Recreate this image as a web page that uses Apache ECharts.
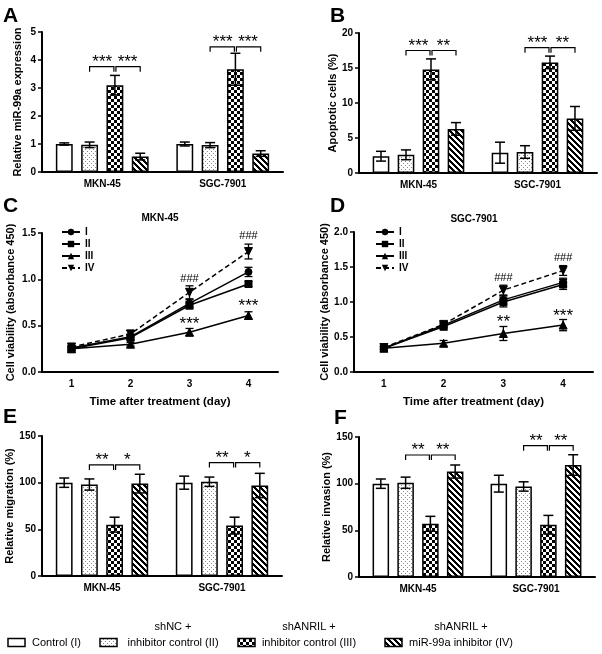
<!DOCTYPE html>
<html><head><meta charset="utf-8">
<script src="https://cdn.jsdelivr.net/npm/echarts@6/dist/echarts.min.js"></script>
<style>html,body{margin:0;padding:0;background:#fff}#c{width:602px;height:654px}</style>
</head><body><div id="c"></div>
<script>
// ---------------- data ----------------
const groups = ['MKN-45', 'SGC-7901'];
const conditionNames = ['Control (I)', 'shNC + inhibitor control (II)', 'shANRIL + inhibitor control (III)', 'shANRIL + miR-99a inhibitor (IV)'];
const lineNames = ['I', 'II', 'III', 'IV'];
const days = ['1', '2', '3', '4'];

// Panel A: relative miR-99a expression; rows = conditions I..IV, cols = groups
const aMean = [[1.00, 1.00], [0.97, 0.96], [3.10, 3.67], [0.55, 0.66]];
const aErr  = [[0.04, 0.07], [0.10, 0.09], [0.35, 0.57], [0.12, 0.10]];
const aSigLevel = [3.76, 4.47];
const aSigText = [['***', '***'], ['***', '***']];

// Panel B: apoptotic cells (%)
const bMean = [[2.4, 2.9], [2.6, 3.0], [14.8, 15.8], [6.3, 7.8]];
const bErr  = [[0.7, 1.5], [0.7, 0.9], [1.5, 0.9], [0.9, 1.7]];
const bSigLevel = [17.5, 17.9];
const bSigText = [['***', '**'], ['***', '**']];

// Panel C: MKN-45 cell viability; rows = I..IV, cols = days
const cMean = [[0.26, 0.38, 0.74, 1.08], [0.25, 0.37, 0.72, 0.95], [0.25, 0.30, 0.43, 0.61], [0.27, 0.41, 0.86, 1.30]];
const cErr  = [[0.02, 0.03, 0.04, 0.05], [0.02, 0.03, 0.04, 0.03], [0.02, 0.02, 0.04, 0.04], [0.02, 0.04, 0.07, 0.08]];
const cNotes = [[2, 1.00, '###'], [3, 1.47, '###'], [2, 0.56, '***'], [3, 0.755, '***']];

// Panel D: SGC-7901 cell viability
const dMean = [[0.34, 0.67, 1.03, 1.28], [0.34, 0.65, 1.00, 1.25], [0.34, 0.41, 0.55, 0.67], [0.35, 0.68, 1.17, 1.45]];
const dErr  = [[0.02, 0.04, 0.06, 0.06], [0.02, 0.05, 0.07, 0.07], [0.02, 0.04, 0.10, 0.08], [0.02, 0.04, 0.07, 0.07]];
const dNotes = [[2, 1.34, '###'], [3, 1.63, '###'], [2, 0.77, '**'], [3, 0.85, '***']];

// Panel E: relative migration (%)
const eMean = [[100, 100], [98, 101], [55, 54], [99, 97]];
const eErr  = [[5, 7], [6, 5], [8, 9], [10, 13]];
const eSigLevel = [119, 121.5];
const eSigText = [['**', '*'], ['**', '*']];

// Panel F: relative invasion (%)
const fMean = [[100, 100], [101, 97], [57, 56], [113, 120]];
const fErr  = [[5, 9], [6, 5], [8, 10], [7, 11]];
const fSigLevel = [130.7, 140.7];
const fSigText = [['**', '**'], ['**', '**']];

// ---------------- style helpers ----------------
const FONT = "'Liberation Sans', Arial, sans-serif";
const BARW = 0.14;

function makePattern(kind) {
  if (kind === 'plain') return '#ffffff';
  const c = document.createElement('canvas');
  const ctx = c.getContext('2d');
  if (kind === 'dots') {
    c.width = 4; c.height = 4;
    ctx.fillStyle = '#fff'; ctx.fillRect(0, 0, 4, 4);
    ctx.fillStyle = '#8a8a8a'; ctx.fillRect(1, 1, 1, 1); ctx.fillRect(3, 3, 1, 1);
  } else if (kind === 'checker') {
    c.width = 6; c.height = 6;
    ctx.fillStyle = '#fff'; ctx.fillRect(0, 0, 6, 6);
    ctx.fillStyle = '#000'; ctx.fillRect(0, 0, 3, 3); ctx.fillRect(3, 3, 3, 3);
  } else {
    c.width = 6; c.height = 6;
    ctx.fillStyle = '#fff'; ctx.fillRect(0, 0, 6, 6);
    ctx.fillStyle = '#000';
    for (let y = 0; y < 6; y++) for (let x = 0; x < 6; x++) if (((x - y) % 6 + 6) % 6 < 3) ctx.fillRect(x, y, 1, 1);
  }
  return { image: c, repeat: 'repeat' };
}
const patternKinds = ['plain', 'dots', 'checker', 'stripes'];
const fills = patternKinds.map(makePattern);

const grids = [
  { left: 42, top: 32, width: 241, height: 140 },   // A
  { left: 359, top: 33, width: 238, height: 140 },  // B
  { left: 42, top: 233, width: 236, height: 139 },  // C
  { left: 354, top: 232, width: 239, height: 140 }, // D
  { left: 42, top: 436, width: 240, height: 140 },  // E
  { left: 359, top: 437, width: 236, height: 140 }  // F
];
const yCfg = [
  { max: 5, interval: 1, name: 'Relative miR-99a expression', gap: 19, fmt: v => v },
  { max: 20, interval: 5, name: 'Apoptotic cells (%)', gap: 19, fmt: v => v },
  { max: 1.5, interval: 0.5, name: 'Cell viability (absorbance 450)', gap: 26, fmt: v => v.toFixed(1) },
  { max: 2.0, interval: 0.5, name: 'Cell viability (absorbance 450)', gap: 18, fmt: v => v.toFixed(1) },
  { max: 150, interval: 50, name: 'Relative migration (%)', gap: 19, fmt: v => v },
  { max: 150, interval: 50, name: 'Relative invasion (%)', gap: 24, fmt: v => v }
];

const axisLine = { lineStyle: { color: '#000', width: 2 } };
const axisTick = { lineStyle: { color: '#000', width: 1.5 }, length: 4 };
const labelStyle = { color: '#000', fontFamily: FONT, fontWeight: 'bold', fontSize: 10 };

const xAxes = [], yAxes = [], series = [];
grids.forEach((g, p) => {
  const isLine = (p === 2 || p === 3);
  xAxes.push({
    gridIndex: p, type: 'category', data: isLine ? days : groups, boundaryGap: true,
    axisLine, axisTick: Object.assign({ alignWithLabel: true }, axisTick),
    axisLabel: Object.assign({ margin: 7 }, labelStyle),
    splitLine: { show: false },
    name: isLine ? 'Time after treatment (day)' : '', nameLocation: 'middle', nameGap: 24,
    nameTextStyle: { color: '#000', fontFamily: FONT, fontWeight: 'bold', fontSize: 11.5 }
  });
  const yc = yCfg[p];
  yAxes.push({
    gridIndex: p, type: 'value', min: 0, max: yc.max, interval: yc.interval,
    axisLine: Object.assign({ show: true }, axisLine), axisTick: Object.assign({ show: true }, axisTick),
    axisLabel: Object.assign({ margin: 6, formatter: yc.fmt }, labelStyle),
    splitLine: { show: false },
    name: yc.name, nameLocation: 'middle', nameRotate: 90, nameGap: yc.gap,
    nameTextStyle: { color: '#000', fontFamily: FONT, fontWeight: 'bold', fontSize: 11 }
  });
});

// ---- bar panels ----
function errRender(params, api) {
  const g = api.value(0), c = api.value(1), m = api.value(2), e = api.value(3);
  const band = api.size([1, 0])[0];
  const w = band * BARW;
  const x = api.coord([g, m])[0] + (c - 1.5) * 1.5 * w;
  const yT = api.coord([g, m + e])[1], yB = api.coord([g, m - e])[1];
  const cap = 5, st = { stroke: '#000', lineWidth: 1.5 };
  return { type: 'group', children: [
    { type: 'line', shape: { x1: x, y1: yT, x2: x, y2: yB }, style: st },
    { type: 'line', shape: { x1: x - cap, y1: yT, x2: x + cap, y2: yT }, style: st },
    { type: 'line', shape: { x1: x - cap, y1: yB, x2: x + cap, y2: yB }, style: st }
  ] };
}
function makeSigRender(texts) {
  return function (params, api) {
    const g = api.value(0), lv = api.value(1);
    const band = api.size([1, 0])[0];
    const w = band * BARW;
    const cx = api.coord([g, lv])[0], y = api.coord([g, lv])[1];
    const x1 = cx - 0.75 * w, x2 = cx + 0.75 * w, x3 = cx + 2.25 * w;
    const st = { stroke: '#000', lineWidth: 1.2, fill: null };
    const drop = 5;
    const t = texts[params.dataIndex];
    const ts = { fill: '#000', fontFamily: FONT, fontSize: 17, align: 'center', verticalAlign: 'bottom' };
    return { type: 'group', children: [
      { type: 'polyline', shape: { points: [[x1, y + drop], [x1, y], [x2 - 1, y], [x2 - 1, y + drop]] }, style: st },
      { type: 'polyline', shape: { points: [[x2 + 1, y + drop], [x2 + 1, y], [x3, y], [x3, y + drop]] }, style: st },
      { type: 'text', style: Object.assign({ x: (x1 + x2) / 2, y: y + 4, text: t[0] }, ts) },
      { type: 'text', style: Object.assign({ x: (x2 + x3) / 2, y: y + 4, text: t[1] }, ts) }
    ] };
  };
}
const barPanels = [
  [0, aMean, aErr, aSigLevel, aSigText],
  [1, bMean, bErr, bSigLevel, bSigText],
  [4, eMean, eErr, eSigLevel, eSigText],
  [5, fMean, fErr, fSigLevel, fSigText]
];
barPanels.forEach(([p, mean, err, sigLv, sigTx]) => {
  mean.forEach((vals, i) => {
    series.push({
      type: 'bar', name: conditionNames[i], xAxisIndex: p, yAxisIndex: p, data: vals,
      barWidth: (BARW * 100) + '%', barGap: '50%', silent: true,
      itemStyle: { color: fills[i], borderColor: '#000', borderWidth: 1.5 }
    });
  });
  const errData = [];
  mean.forEach((vals, i) => vals.forEach((v, g) => errData.push([g, i, v, err[i][g]])));
  series.push({ type: 'custom', xAxisIndex: p, yAxisIndex: p, data: errData, renderItem: errRender, z: 5, silent: true });
  series.push({ type: 'custom', xAxisIndex: p, yAxisIndex: p, data: sigLv.map((l, g) => [g, l]), renderItem: makeSigRender(sigTx), z: 5, silent: true, clip: false });
});

// ---- line panels ----
const symbols = ['circle', 'rect', 'triangle', 'triangle'];
const symbolRot = [0, 0, 0, 180];
const symbolSizes = [7, 7, 8, 8];
function lineErrRender(params, api) {
  const d = api.value(0), m = api.value(1), e = api.value(2);
  const x = api.coord([d, m])[0];
  const yT = api.coord([d, m + e])[1], yB = api.coord([d, m - e])[1];
  const cap = 4, st = { stroke: '#000', lineWidth: 1.3 };
  return { type: 'group', children: [
    { type: 'line', shape: { x1: x, y1: yT, x2: x, y2: yB }, style: st },
    { type: 'line', shape: { x1: x - cap, y1: yT, x2: x + cap, y2: yT }, style: st },
    { type: 'line', shape: { x1: x - cap, y1: yB, x2: x + cap, y2: yB }, style: st }
  ] };
}
function makeNoteRender(notes) {
  return function (params, api) {
    const n = notes[params.dataIndex];
    const pt = api.coord([n[0], n[1]]);
    const star = n[2].indexOf('*') >= 0;
    return { type: 'text', style: {
      x: pt[0], y: pt[1] + (star ? 4 : 0), text: n[2], fill: '#000', fontFamily: FONT,
      fontSize: star ? 17 : 11, align: 'center', verticalAlign: 'middle'
    } };
  };
}
[[2, cMean, cErr, cNotes], [3, dMean, dErr, dNotes]].forEach(([p, mean, err, notes]) => {
  mean.forEach((vals, i) => {
    series.push({
      type: 'line', name: lineNames[i], xAxisIndex: p, yAxisIndex: p, data: vals,
      symbol: symbols[i], symbolRotate: symbolRot[i], symbolSize: symbolSizes[i], silent: true,
      lineStyle: { color: '#000', width: 1.5, type: i === 3 ? [5, 3] : 'solid' },
      itemStyle: { color: '#000', borderColor: '#000' }, z: 3
    });
  });
  const errData = [];
  mean.forEach((vals, i) => vals.forEach((v, d) => errData.push([d, v, err[i][d]])));
  series.push({ type: 'custom', xAxisIndex: p, yAxisIndex: p, data: errData, renderItem: lineErrRender, z: 4, silent: true });
  series.push({ type: 'custom', xAxisIndex: p, yAxisIndex: p, data: notes.map(n => [n[0], n[1]]), renderItem: makeNoteRender(notes), z: 4, silent: true, clip: false });
});

// ---- legends for C and D ----
const legends = [
  { left: 61, top: 227 }, { left: 375, top: 227 }
].map(pos => ({
  left: pos.left, top: pos.top, orient: 'vertical', itemGap: 2, itemWidth: 18, itemHeight: 8,
  data: lineNames, selectedMode: false, padding: 0,
  textStyle: { color: '#000', fontFamily: FONT, fontWeight: 'bold', fontSize: 10, padding: [0, 0, 0, 0] }
}));

// ---- panel letters, titles, bottom legend ----
const letters = [['A', 3, 6], ['B', 330, 6], ['C', 3, 196], ['D', 330, 196], ['E', 3, 407], ['F', 334, 408]];
const graphic = letters.map(([t, x, y]) => ({
  type: 'text', left: x, top: y, style: { text: t, fill: '#000', font: 'bold 21px ' + FONT }
}));
[['MKN-45', 160, 218], ['SGC-7901', 474, 219]].forEach(([t, x, y]) => graphic.push({
  type: 'text', x: x, y: y, style: { text: t, fill: '#000', font: 'bold 10px ' + FONT, align: 'center', verticalAlign: 'middle' }
}));
const legendItems = [
  { rx: 8, text: 'Control (I)', tx: 32, align: 'left' },
  { rx: 100, text: 'shNC +\ninhibitor control (II)', tx: 173, align: 'center' },
  { rx: 238, text: 'shANRIL +\ninhibitor control (III)', tx: 309, align: 'center' },
  { rx: 385, text: 'shANRIL +\nmiR-99a inhibitor (IV)', tx: 461, align: 'center' }
];
legendItems.forEach((it, i) => {
  graphic.push({ type: 'rect', shape: { x: it.rx, y: 638.5, width: 17, height: 8 },
    style: { fill: fills[i], stroke: '#000', lineWidth: 1.5 } });
  const multi = it.text.indexOf('\n') >= 0;
  graphic.push({ type: 'text', x: it.tx, y: multi ? 651 : 642.5, style: {
    text: it.text, fill: '#000', font: '11px ' + FONT, align: it.align,
    verticalAlign: multi ? 'bottom' : 'middle', lineHeight: 16 } });
});

const chart = echarts.init(document.getElementById('c'), null, { renderer: 'canvas' });
chart.setOption({
  animation: false,
  backgroundColor: '#fff',
  grid: grids,
  xAxis: xAxes,
  yAxis: yAxes,
  legend: legends,
  series: series,
  graphic: graphic
});
</script></body></html>
